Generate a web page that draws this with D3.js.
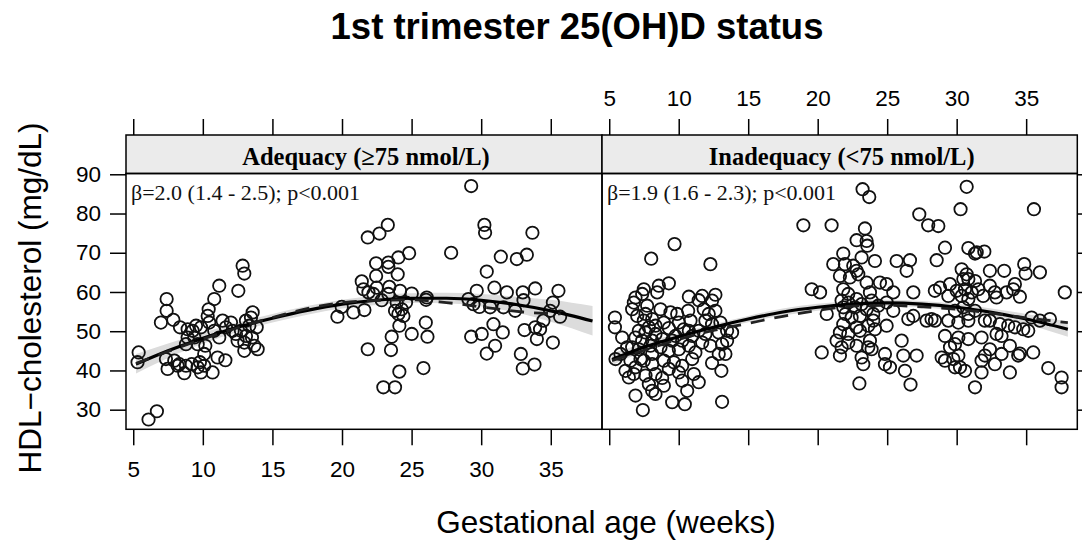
<!DOCTYPE html>
<html><head><meta charset="utf-8">
<script src="https://cdn.jsdelivr.net/npm/d3@7"></script>
<style>body{margin:0;background:#fff}svg{display:block}</style>
</head><body>
<script>
const weekTicks = [5,10,15,20,25,30,35];
const hdlTicks = [30,40,50,60,70,80,90];
const panelLabels = ["Adequacy (\u226575 nmol/L)", "Inadequacy (<75 nmol/L)"];
const annotations = ["\u03b2=2.0 (1.4 - 2.5); p<0.001", "\u03b2=1.9 (1.6 - 2.3); p<0.001"];

// [gestational week, HDL-cholesterol mg/dL]
const adequacyPoints = [
[5.39,44.6],[5.31,42.1],[6.10,27.5],[6.70,29.6],[7.40,58.2],[7.40,55.2],[6.99,52.2],[7.88,52.9],[8.36,51.0],[7.47,40.4],
[7.95,42.5],[8.19,41.2],[8.67,39.3],[9.20,41.6],[9.63,40.8],[9.79,42.1],[10.10,41.2],[10.70,39.5],[11.06,43.3],[11.62,42.6],
[8.91,50.5],[9.27,50.1],[8.91,48.4],[9.39,48.4],[8.79,46.7],[9.63,46.7],[10.18,46.3],[9.87,51.0],[10.35,53.9],[10.42,55.6],
[10.82,58.2],[11.18,61.6],[12.55,60.3],[12.86,66.7],[12.98,64.7],[10.82,50.1],[11.18,48.4],[11.66,51.0],[12.02,52.2],[12.38,49.3],
[12.50,47.6],[12.98,47.1],[12.98,45.0],[13.34,51.4],[13.58,54.8],[13.46,53.5],[13.87,51.0],[13.53,48.4],[13.70,46.3],[13.94,45.4],
[10.46,52.2],[11.42,52.7],[10.10,44.2],[8.31,41.6],[9.51,51.4],[12.14,50.1],[12.74,50.1],[13.10,52.7],[13.10,48.8],[7.35,42.9],
[9.87,39.5],[8.79,41.2],
[29.28,87.0],[30.23,77.1],[30.28,75.1],[33.68,75.1],[21.85,73.9],[22.69,74.9],[23.29,77.1],[24.82,69.9],[27.84,70.0],[31.41,69.0],
[32.56,68.4],[33.28,69.5],[22.45,67.3],[23.33,67.5],[24.05,68.8],[23.33,66.4],[24.0,64.5],[22.45,64.1],[30.40,65.2],[21.42,62.7],
[21.54,60.7],[21.90,59.9],[22.49,61.1],[23.40,61.3],[24.17,60.3],[25.01,59.6],[26.09,58.6],[26.04,58.0],[19.98,56.2],[19.67,53.7],
[20.82,54.8],[21.61,55.4],[22.85,57.9],[23.81,55.2],[24.05,54.4],[24.41,53.9],[24.60,57.3],[24.12,51.4],[23.57,48.6],[23.52,45.2],
[21.85,45.4],[25.01,49.3],[26.02,52.2],[26.14,48.6],[24.12,39.7],[25.85,40.6],[22.97,35.7],[23.81,35.7],[29.08,58.2],[29.68,60.3],
[29.44,56.9],[29.87,56.2],[30.95,61.1],[31.84,59.9],[32.99,59.9],[33.04,57.9],[33.88,60.9],[35.55,60.3],[35.15,57.3],[30.64,56.1],
[31.60,56.1],[32.44,55.2],[30.88,51.8],[31.55,49.7],[30.04,49.3],[29.28,48.6],[31.0,46.3],[30.40,44.3],[33.11,50.3],[33.88,51.0],
[34.0,48.0],[34.47,52.7],[34.95,55.2],[35.67,53.7],[35.15,47.1],[32.85,44.2],[32.99,40.5],[33.83,41.5],[34.23,50.5],[22.25,59.5],
[23.33,59.5],[24.29,55.6],[23.93,57.3]
];

const inadequacyPoints = [
[9.70,72.2],[8.02,68.5],[12.28,67.1],[9.29,62.2],[7.49,60.7],[8.57,61.6],[8.45,59.9],[7.37,59.5],[6.89,58.6],[10.73,58.8],
[11.69,59.0],[12.64,59.3],[12.40,57.8],[11.44,57.9],[6.77,57.3],[7.73,56.5],[8.69,55.6],[9.41,54.8],[9.89,54.4],[10.68,55.2],
[11.80,55.6],[12.16,54.4],[12.64,55.2],[6.65,55.6],[5.41,53.5],[7.01,53.9],[7.49,52.7],[8.09,53.1],[8.93,52.2],[10.01,52.2],
[10.85,52.7],[11.92,52.7],[12.40,51.8],[13.0,52.2],[5.41,51.0],[7.85,51.0],[9.29,50.8],[10.37,50.5],[11.44,50.1],[5.93,48.4],
[6.89,48.4],[7.61,49.7],[8.33,49.3],[8.81,48.0],[9.77,48.8],[10.97,48.8],[11.92,49.3],[12.88,49.7],[13.48,50.1],[13.84,49.7],
[7.37,47.6],[10.25,47.6],[6.29,45.9],[7.13,45.4],[7.97,46.3],[8.69,45.9],[9.29,45.0],[10.01,45.4],[10.73,46.3],[11.69,47.1],
[12.28,46.3],[13.12,46.7],[13.48,47.6],[5.81,44.2],[8.09,44.2],[11.20,44.6],[12.88,44.2],[13.36,44.2],[5.45,42.9],[6.53,42.5],
[7.25,42.9],[8.09,41.6],[8.93,42.5],[9.65,42.1],[10.25,41.2],[10.97,42.9],[12.40,41.9],[6.89,40.8],[9.29,40.4],[6.17,39.9],
[6.77,39.1],[7.61,38.7],[8.33,39.1],[10.01,39.5],[11.09,39.1],[13.07,39.9],[6.41,38.2],[8.81,38.1],[10.25,37.4],[11.44,37.0],
[7.85,36.5],[8.93,36.1],[10.61,34.8],[8.09,34.8],[6.89,33.6],[9.53,31.9],[10.44,31.4],[13.12,32.0],[7.42,29.9],[8.33,34.0],
[7.61,54.4],[8.33,51.4],[7.13,50.1],[8.09,47.6],[6.65,45.9],[7.49,42.5],[10.73,50.1],[9.53,47.6],
[23.23,86.2],[23.71,84.2],[18.97,77.0],[21.0,77.0],[27.31,79.8],[27.95,77.0],[23.40,76.2],[22.80,73.2],[23.52,73.0],[23.57,71.8],
[21.84,69.8],[23.16,68.8],[24.12,67.9],[21.12,67.1],[21.96,67.1],[22.56,66.7],[22.80,65.4],[25.68,67.9],[26.64,68.1],[26.40,65.4],
[21.60,64.1],[22.32,63.7],[22.92,64.5],[23.52,62.4],[24.48,62.4],[24.96,62.0],[19.57,60.7],[20.17,59.9],[21.84,60.7],[22.20,59.5],
[23.76,59.9],[25.44,59.9],[26.88,59.9],[21.72,57.8],[22.20,57.3],[22.80,58.2],[23.16,56.9],[23.88,57.8],[24.36,56.5],[24.96,57.3],
[21.84,56.1],[22.68,56.1],[23.52,55.6],[20.65,54.4],[22.0,54.4],[23.04,53.9],[24.0,54.4],[25.44,55.2],[26.52,53.1],[26.88,53.9],
[27.83,52.7],[28.19,53.1],[21.84,51.8],[22.80,51.0],[23.64,51.4],[24.12,50.5],[24.96,51.4],[21.60,49.7],[22.20,49.3],[23.04,50.1],
[21.36,47.6],[22.20,47.1],[22.80,46.3],[23.76,47.6],[23.88,45.4],[21.72,45.9],[20.29,44.6],[21.60,43.8],[23.16,43.3],[23.28,41.6],
[24.84,44.2],[24.84,41.6],[25.20,40.8],[26.04,47.6],[26.16,43.8],[27.12,43.8],[26.28,39.9],[23.0,36.7],[26.68,36.4],[23.64,45.9],
[24.0,52.7],[22.44,53.5],[28.43,60.3],
[30.72,86.8],[30.28,81.1],[35.56,81.1],[28.68,76.8],[29.16,71.3],[30.84,71.2],[31.44,70.1],[31.99,70.3],[31.32,69.8],[28.56,68.1],
[30.36,65.8],[30.72,64.5],[32.39,65.4],[33.42,65.4],[34.86,67.1],[34.96,64.7],[35.99,65.0],[37.78,59.9],[30.84,63.3],[31.32,62.8],
[28.80,61.1],[29.52,62.0],[30.0,60.3],[30.60,60.7],[31.08,59.9],[31.56,60.7],[32.39,61.6],[32.75,59.9],[33.59,59.9],[34.19,62.0],
[34.55,58.8],[34.07,60.7],[29.40,59.0],[30.36,59.0],[30.84,58.2],[31.91,59.0],[32.87,58.6],[28.44,52.7],[29.40,52.7],[30.12,52.2],
[30.84,54.4],[30.84,52.7],[31.32,55.2],[32.03,52.7],[32.39,52.7],[33.11,51.8],[33.71,51.4],[34.19,51.0],[34.79,50.5],[35.39,53.5],
[35.99,52.7],[36.71,53.1],[29.16,48.8],[30.12,48.4],[30.84,48.0],[31.79,48.4],[32.87,49.3],[33.23,48.8],[35.15,50.1],[29.52,45.9],
[29.88,46.7],[32.03,43.8],[32.39,45.4],[33.23,44.2],[33.83,46.3],[34.43,43.8],[34.55,44.3],[35.51,44.6],[28.92,43.3],[29.76,42.9],
[30.12,43.8],[30.24,40.8],[30.60,39.9],[29.88,40.8],[29.16,42.5],[31.79,42.5],[32.75,41.6],[31.79,39.5],[33.83,39.5],[31.32,35.7],
[36.59,40.6],[37.55,38.2],[37.55,35.7],[30.48,63.3],[29.88,55.2],[30.48,56.1]
];

// fitted quadratic (solid), its confidence band, and smoother (dashed)
const adequacyFit = [[5.2,41.6],[7.5,45.0],[10,48.2],[12.5,51.0],[15,53.3],[17.5,55.3],[20,56.9],[22.5,57.9],[25,58.4],[27.5,58.4],[30,57.9],[32.5,56.8],[35,55.2],[38,52.6]];
const adequacyBand = [[5.2,39.2,44.2],[7.5,43.2,46.9],[10,46.8,49.6],[12.5,49.8,52.2],[15,52.2,54.4],[17.5,54.2,56.4],[20,55.8,58.0],[22.5,56.7,59.1],[25,57.2,59.7],[27.5,57.1,59.8],[30,56.3,59.5],[32.5,54.8,58.8],[35,52.4,58.0],[38,48.9,56.4]];
const adequacySmooth = [[5.2,41.8],[10,48.0],[15,53.5],[19,56.8],[22,57.8],[25,58.0],[27.5,57.3],[30,56.2],[33,54.9],[35.7,54.4]];
const inadequacyFit = [[5.2,42.8],[7.5,45.9],[10,48.6],[12.5,51.0],[15,53.1],[17.5,54.9],[20,56.1],[22.5,56.9],[25,57.2],[27.5,56.9],[30,56.1],[32.5,54.8],[35,53.1],[38,50.5]];
const inadequacyBand = [[5.2,41.3,44.3],[7.5,44.8,47.0],[10,47.7,49.5],[12.5,50.2,51.8],[15,52.3,53.9],[17.5,54.0,55.8],[20,55.2,57.0],[22.5,56.1,57.7],[25,56.4,58.0],[27.5,56.1,57.7],[30,55.2,57.0],[32.5,53.8,55.8],[35,51.8,54.4],[38,48.6,52.4]];
const inadequacySmooth = [[5.2,42.5],[8,45.7],[10,47.9],[12.5,50.2],[15,52.0],[17.5,53.8],[20,55.3],[22.5,56.4],[25,56.6],[27.5,56.2],[30,55.6],[32.5,54.6],[35,53.4],[38,52.2]];

const W = 1082, H = 540;
const svg = d3.select("body").append("svg").attr("width", W).attr("height", H);
const sans = "Liberation Sans, Arial, sans-serif";
const serif = "Liberation Serif, Times New Roman, serif";

const panelTop = 173.5, panelBottom = 429.3, stripTop = 135;
const panelX = [[126, 602], [602, 1077.3]];
const y = d3.scaleLinear().domain([25, 90.2]).range([panelBottom, panelTop]);

const datasets = [
  {pts: adequacyPoints, fit: adequacyFit, band: adequacyBand, smooth: adequacySmooth},
  {pts: inadequacyPoints, fit: inadequacyFit, band: inadequacyBand, smooth: inadequacySmooth}
];

// title
svg.append("text").attr("x", 577).attr("y", 39).attr("text-anchor", "middle")
  .attr("font-family", sans).attr("font-weight", "bold").attr("font-size", 36.5).text("1st trimester 25(OH)D status");

datasets.forEach((ds, i) => {
  const [x0, x1] = panelX[i];
  const x = d3.scaleLinear().domain([4.48, 38.68]).range([x0, x1]);
  const g = svg.append("g");
  const clipId = "clip" + i;
  svg.append("clipPath").attr("id", clipId).append("rect")
    .attr("x", x0).attr("y", panelTop).attr("width", x1 - x0).attr("height", panelBottom - panelTop);
  const inner = g.append("g").attr("clip-path", `url(#${clipId})`);

  // band
  inner.append("path").datum(ds.band)
    .attr("d", d3.area().x(d => x(d[0])).y0(d => y(d[1])).y1(d => y(d[2])).curve(d3.curveMonotoneX))
    .attr("fill", "#dcdcdc");
  // points
  inner.selectAll("circle").data(ds.pts).join("circle")
    .attr("cx", d => x(d[0])).attr("cy", d => y(d[1])).attr("r", 6.2)
    .attr("fill", "none").attr("stroke", "#111").attr("stroke-width", 1.8);
  // fit
  inner.append("path").datum(ds.fit)
    .attr("d", d3.line().x(d => x(d[0])).y(d => y(d[1])).curve(d3.curveMonotoneX))
    .attr("fill", "none").attr("stroke", "#000").attr("stroke-width", 3.2);
  inner.append("path").datum(ds.smooth)
    .attr("d", d3.line().x(d => x(d[0])).y(d => y(d[1])).curve(d3.curveMonotoneX))
    .attr("fill", "none").attr("stroke", "#222").attr("stroke-width", 2.8).attr("stroke-dasharray", "14,10");

  // strip
  g.append("rect").attr("x", x0).attr("y", stripTop).attr("width", x1 - x0).attr("height", panelTop - stripTop)
    .attr("fill", "#ebebeb").attr("stroke", "#000").attr("stroke-width", 1.5);
  g.append("text").attr("x", (x0 + x1) / 2 + 2).attr("y", 164.5).attr("text-anchor", "middle")
    .attr("font-family", serif).attr("font-weight", "bold").attr("font-size", 24.5).text(panelLabels[i]);
  // panel border
  g.append("rect").attr("x", x0).attr("y", panelTop).attr("width", x1 - x0).attr("height", panelBottom - panelTop)
    .attr("fill", "none").attr("stroke", "#000").attr("stroke-width", 1.5);
  // annotation
  g.append("text").attr("x", x0 + 5).attr("y", 200).attr("font-family", serif).attr("font-size", 22)
    .attr("fill", "#111").text(annotations[i]);

  // x axes: ticks top and bottom
  const top = d3.axisTop(x).tickValues(weekTicks).tickSize(16).tickSizeOuter(0).tickPadding(13);
  const bot = d3.axisBottom(x).tickValues(weekTicks).tickSize(16).tickSizeOuter(0).tickPadding(16);
  const ta = svg.append("g").attr("transform", `translate(0,${stripTop})`).call(top);
  const ba = svg.append("g").attr("transform", `translate(0,${panelBottom})`).call(bot);
  [ta, ba].forEach(a => { a.select(".domain").remove(); a.selectAll("line").attr("stroke", "#000").attr("stroke-width", 1.5);
    a.selectAll("text").attr("font-family", sans).attr("font-size", 22.5).attr("fill", "#000"); });
  if (i === 0) ta.selectAll("text").remove(); else ba.selectAll("text").remove();
});

// y axes
const la = svg.append("g").attr("transform", `translate(${panelX[0][0]},0)`)
  .call(d3.axisLeft(y).tickValues(hdlTicks).tickSize(16).tickSizeOuter(0).tickPadding(9));
const ra = svg.append("g").attr("transform", `translate(${panelX[1][1]},0)`)
  .call(d3.axisRight(y).tickValues(hdlTicks).tickSize(16).tickSizeOuter(0));
[la, ra].forEach(a => { a.select(".domain").remove(); a.selectAll("line").attr("stroke", "#000").attr("stroke-width", 1.5);
  a.selectAll("text").attr("font-family", sans).attr("font-size", 22.5).attr("fill", "#000"); });
ra.selectAll("text").remove();

// axis titles
svg.append("text").attr("x", 606).attr("y", 533).attr("text-anchor", "middle")
  .attr("font-family", sans).attr("font-size", 31.5).text("Gestational age (weeks)");
svg.append("text").attr("transform", "translate(41,298) rotate(-90)").attr("text-anchor", "middle")
  .attr("font-family", sans).attr("font-size", 31.5).text("HDL\u2212cholesterol (mg/dL)");
</script>
</body></html>
